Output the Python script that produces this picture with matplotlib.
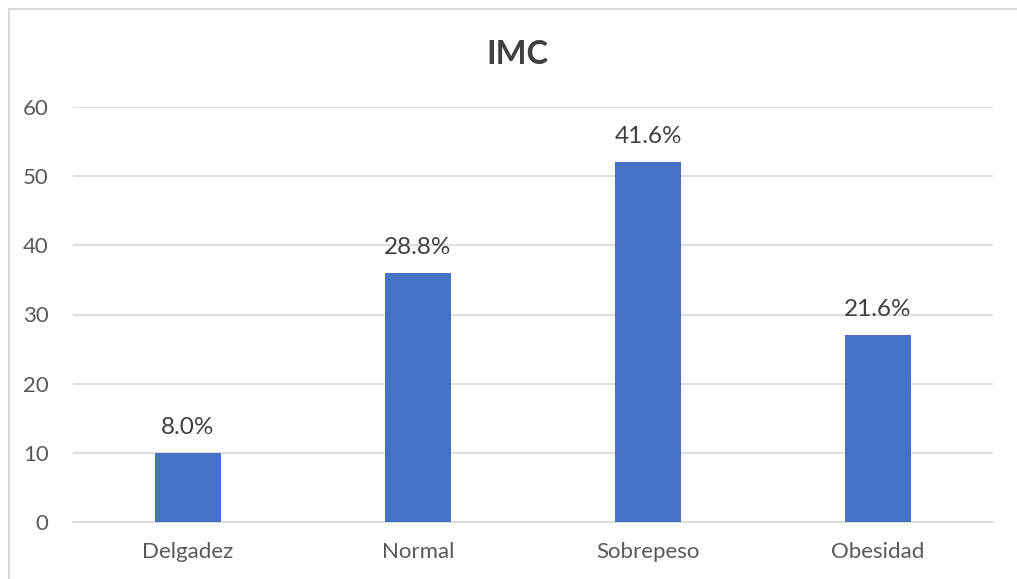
import matplotlib
matplotlib.use("Agg")
import matplotlib.pyplot as plt
from matplotlib.patches import Rectangle

categories = ["Delgadez", "Normal", "Sobrepeso", "Obesidad"]
values = [10, 36, 52, 27]
labels = ["8.0%", "28.8%", "41.6%", "21.6%"]
yticks = [0, 10, 20, 30, 40, 50, 60]

plt.rcParams['font.family'] = ['Lato', 'DejaVu Sans']
txt = '#595959'

fig = plt.figure(figsize=(10.17, 5.79), dpi=100)
fig.patches.append(Rectangle((9/1017, -0.1), 1.2, 1 - 9/579 + 0.1, transform=fig.transFigure,
                             fill=False, edgecolor='#d9d9d9', linewidth=1.5))
ax = fig.add_axes([73/1017, 1 - 522/579, (993-73)/1017, (522-107)/579])
x = range(len(categories))
ax.bar(x, values, width=0.287, color='#4472c4', zorder=3)
for i, (v, l) in enumerate(zip(values, labels)):
    ax.text(i, v + 2.75, l, ha='center', va='baseline', fontsize=17.5, color='#404040')
ax.set_xlim(-0.5, 3.5)
ax.set_ylim(0, 60)
ax.set_yticks(yticks)
ax.set_xticks(list(x))
ax.set_xticklabels(categories)
ax.grid(axis='y', color='#d9d9d9', linewidth=1.2, zorder=0)
for s in ['top', 'right', 'left']:
    ax.spines[s].set_visible(False)
ax.spines['bottom'].set_color('#d9d9d9')
ax.spines['bottom'].set_linewidth(1.2)
ax.tick_params(axis='both', length=0, labelsize=16, labelcolor=txt)
ax.tick_params(axis='y', pad=17.5)
ax.tick_params(axis='x', pad=14.5)
fig.text(517/1017, 1 - 54/579, "IMC", ha='center', va='center', fontsize=23.5, fontweight='bold', color='#404040')
fig.savefig("out.png", dpi=100)
